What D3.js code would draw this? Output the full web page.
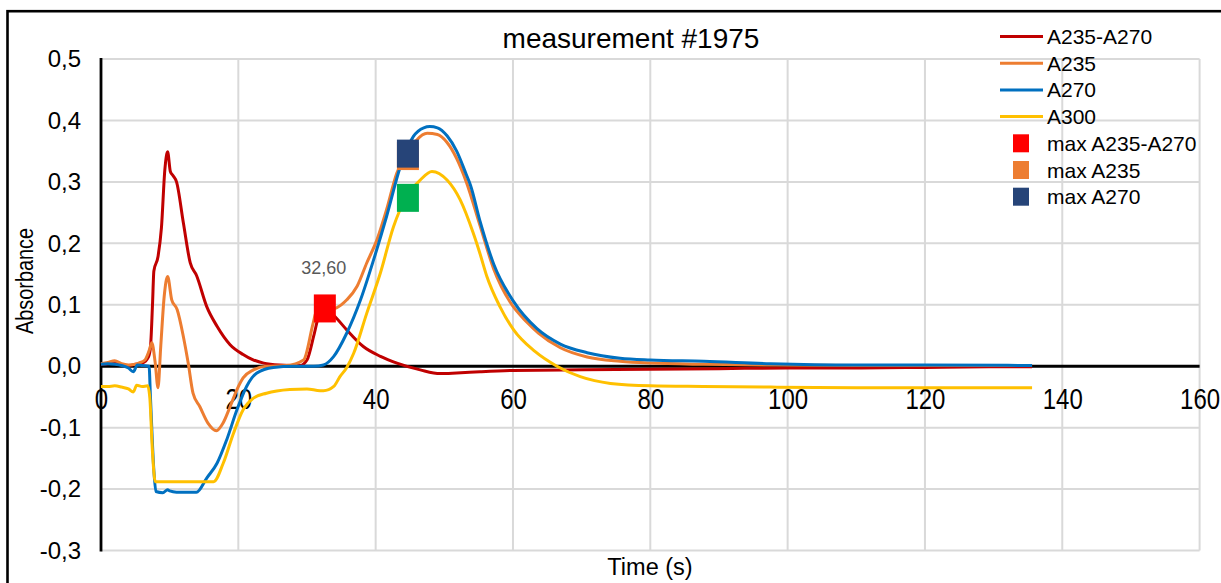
<!DOCTYPE html>
<html><head><meta charset="utf-8">
<script src="https://cdn.jsdelivr.net/npm/d3@7"></script>
<style>
body{margin:0;background:#fff;}
svg{display:block;}
text{font-family:"Liberation Sans",Arial,sans-serif;}
</style>
</head><body>
<svg id="chart" width="1221" height="583"></svg>
<script>
// ---------- data ----------
const chartTitle = "measurement #1975";
const xTitle = "Time (s)";
const yTitle = "Absorbance";
const xTicks = [0, 20, 40, 60, 80, 100, 120, 140, 160];
const yTicks = [-0.3, -0.2, -0.1, 0.0, 0.1, 0.2, 0.3, 0.4, 0.5];
const seriesNames = ["A235-A270", "A235", "A270", "A300"];

const tDiff = [0, 1, 2, 3, 4, 5, 6, 6.9, 7.2, 7.5, 7.7, 8.3, 8.8, 9.3, 9.7, 10.1, 10.5, 11.0, 12.0, 13.0, 13.9, 15.4, 16.9, 18.8, 20.7, 22.0, 23.7, 26, 29, 30, 31, 31.8, 32.6, 33.4, 34.3, 35.8, 38.2, 40.7, 43.1, 46.5, 49.4, 51.8, 55.2, 60, 70, 80, 90, 100, 110, 120, 130, 135.6];
const vDiff = [0.003, 0.004, 0.006, 0.002, 0.001, 0.003, 0.005, 0.015, 0.03, 0.1, 0.155, 0.178, 0.225, 0.32, 0.349, 0.317, 0.31, 0.3, 0.233, 0.168, 0.148, 0.097, 0.065, 0.035, 0.019, 0.011, 0.005, 0.002, 0.001, 0.01, 0.05, 0.085, 0.094, 0.088, 0.078, 0.059, 0.032, 0.016, 0.005, -0.006, -0.012, -0.011, -0.009, -0.007, -0.006, -0.005, -0.004, -0.003, -0.003, -0.002, -0.001, -0.001];

const tA235 = [0, 1, 2, 3, 4, 5, 5.5, 6.4, 7.0, 7.4, 7.9, 8.3, 8.7, 9.2, 9.7, 10.3, 11.1, 12.0, 12.7, 13.4, 14.4, 15.6, 16.8, 17.8, 18.8, 19.8, 20.7, 22.2, 24.1, 27, 29.5, 30.9, 31.4, 32.6, 33.5, 34.3, 35.8, 37.3, 38.7, 40.2, 41.6, 43.1, 44.7, 46, 47.5, 49, 50.4, 51.8, 53.2, 55.2, 57.2, 59.6, 62.0, 63.7, 66.9, 70.8, 75.6, 80, 87.8, 97.5, 110, 120, 135.6];
const vA235 = [0.004, 0.006, 0.009, 0.004, 0.002, 0.003, 0.005, 0.01, 0.025, 0.038, 0.005, -0.035, 0.032, 0.113, 0.146, 0.108, 0.092, 0.048, 0.005, -0.044, -0.066, -0.093, -0.105, -0.092, -0.066, -0.038, -0.019, -0.006, 0, 0.001, 0.01, 0.07, 0.09, 0.094, 0.093, 0.095, 0.108, 0.13, 0.168, 0.206, 0.255, 0.315, 0.345, 0.368, 0.379, 0.377, 0.364, 0.338, 0.300, 0.229, 0.158, 0.104, 0.072, 0.054, 0.030, 0.015, 0.008, 0.005, 0.003, 0.002, 0.001, 0.001, 0.001];

const tA270 = [0, 1, 2, 3, 4, 4.7, 5.3, 6, 7.0, 7.2, 7.7, 8.0, 9, 9.7, 10, 11, 12, 13, 13.9, 15.4, 16.9, 18.3, 19.8, 21.2, 22.7, 25.1, 28, 31, 32.4, 33.9, 35.8, 37.8, 39.7, 41.6, 43.6, 45.5, 47, 47.9, 49, 50.4, 51.8, 53.2, 53.8, 55.2, 57.2, 60.1, 63.5, 66.9, 70.8, 75.6, 80, 87.8, 97.5, 110, 120, 135.6];
const vA270 = [0.003, 0.004, 0.003, 0.001, -0.003, -0.009, 0.002, 0.001, 0.0, -0.05, -0.17, -0.204, -0.206, -0.201, -0.203, -0.205, -0.205, -0.205, -0.205, -0.182, -0.158, -0.12, -0.071, -0.033, -0.011, -0.002, 0.0, 0.0, 0.002, 0.016, 0.054, 0.108, 0.173, 0.244, 0.325, 0.374, 0.388, 0.39, 0.388, 0.375, 0.35, 0.312, 0.295, 0.236, 0.166, 0.105, 0.061, 0.036, 0.022, 0.013, 0.010, 0.008, 0.004, 0.002, 0.002, 0.001];

const tA300 = [0, 1, 2, 3, 4, 4.7, 5.2, 6, 6.8, 7.1, 7.5, 7.9, 9, 11, 13, 15, 16.4, 17.8, 19.3, 20.7, 22.2, 24.1, 27.5, 30, 31.9, 32.4, 33.9, 34.8, 35.8, 36.8, 38.7, 40.7, 42.6, 44.5, 46.5, 48.2, 50.4, 52.3, 54.2, 55.2, 56.2, 58.1, 60.1, 63.2, 66.4, 69.8, 74.2, 80, 87.7, 97.5, 110, 120, 135.6];
const vA300 = [-0.033, -0.033, -0.032, -0.034, -0.037, -0.042, -0.031, -0.033, -0.032, -0.05, -0.14, -0.188, -0.188, -0.188, -0.188, -0.188, -0.188, -0.158, -0.109, -0.071, -0.052, -0.044, -0.038, -0.037, -0.040, -0.040, -0.033, -0.017, -0.002, 0.021, 0.086, 0.152, 0.227, 0.276, 0.303, 0.317, 0.303, 0.271, 0.217, 0.183, 0.146, 0.097, 0.059, 0.024, 0.0, -0.017, -0.028, -0.032, -0.033, -0.034, -0.035, -0.035, -0.035];

const markerNames = ["max A235-A270", "max A235", "max A270", "max A300"];
const markerT = [32.6, 44.7, 44.7, 44.7];
const markerV = [0.094, 0.342, 0.346, 0.274];
const markerInLegend = [true, true, true, false];
const labelledMarker = 0; // data label "32,60"

// ---------- styles ----------
const lineColors = ["#C00000", "#ED7D31", "#0070C0", "#FFC000"];
const markerColors = ["#FF0000", "#ED7D31", "#264478", "#00B050"];
const font = '"Liberation Sans", Arial, sans-serif';

const locale = d3.formatLocale({decimal: ",", thousands: ".", grouping: [3], currency: ["", ""], minus: "-"});
const fmtY = locale.format(".1f");
const fmtLabel = locale.format(".2f");

const svg = d3.select("#chart");
const x = d3.scaleLinear([0, 160], [101, 1199.6]);
const y = d3.scaleLinear([-0.3, 0.5], [550.5, 59]);

// frame
svg.append("rect").attr("x", 7.5).attr("y", 11.2).attr("width", 1300).attr("height", 700)
  .attr("fill", "#fff").attr("stroke", "#000").attr("stroke-width", 2.6);

// gridlines
svg.append("g").selectAll("line").data(yTicks).join("line")
  .attr("x1", x(0)).attr("x2", x(160)).attr("y1", d => y(d)).attr("y2", d => y(d))
  .attr("stroke", "#d9d9d9").attr("stroke-width", 2);
svg.append("g").selectAll("line").data(xTicks.filter(d => d > 0)).join("line")
  .attr("x1", d => x(d)).attr("x2", d => x(d)).attr("y1", y(0.5)).attr("y2", y(-0.3))
  .attr("stroke", "#d9d9d9").attr("stroke-width", 2);

// axis lines
svg.append("line").attr("x1", x(0)).attr("x2", x(0)).attr("y1", y(0.5) - 1).attr("y2", y(-0.3) + 1)
  .attr("stroke", "#000").attr("stroke-width", 2.8);
svg.append("line").attr("x1", x(0)).attr("x2", x(160)).attr("y1", y(0)).attr("y2", y(0))
  .attr("stroke", "#000").attr("stroke-width", 3);

// y axis ticks
const gy = svg.append("g").attr("transform", `translate(${x(0)},0)`)
  .call(d3.axisLeft(y).tickValues(yTicks).tickSize(0).tickPadding(20).tickFormat(fmtY));
gy.select(".domain").remove();
gy.selectAll("text").attr("font-family", font).attr("font-size", 24).attr("fill", "#000");

// x axis ticks
const gx = svg.append("g").attr("transform", `translate(0,${y(0)})`)
  .call(d3.axisBottom(x).tickValues(xTicks).tickSize(0).tickFormat(d3.format("d")));
gx.select(".domain").remove();
gx.selectAll("text").attr("font-family", font).attr("font-size", 24).attr("fill", "#000")
  .attr("y", 17.4).attr("dy", "0.71em").attr("transform", "scale(1,1.25)");

// series
const seriesT = [tDiff, tA235, tA270, tA300];
const seriesV = [vDiff, vA235, vA270, vA300];
const line = d3.line().x(d => x(d[0])).y(d => y(d[1])).curve(d3.curveMonotoneX);
seriesNames.forEach((n, i) => {
  const pts = seriesT[i].map((t, k) => [t, seriesV[i][k]]);
  svg.append("path").datum(pts).attr("d", line).attr("fill", "none")
    .attr("stroke", lineColors[i]).attr("stroke-width", 3).attr("stroke-linejoin", "round");
});

// markers (draw orange behind navy)
const mOrder = [0, 1, 2, 3];
const mw = 22, mh = 28;
mOrder.forEach(i => {
  svg.append("rect").attr("x", x(markerT[i]) - mw / 2).attr("y", y(markerV[i]) - mh / 2)
    .attr("width", mw).attr("height", mh).attr("fill", markerColors[i]);
});

// data label
svg.append("text").attr("x", x(markerT[labelledMarker]) - 1).attr("y", y(markerV[labelledMarker]) - 34)
  .attr("text-anchor", "middle").attr("font-family", '"Open Sans", sans-serif').attr("font-size", 18)
  .attr("fill", "#595959").text(fmtLabel(markerT[labelledMarker]));

// title
svg.append("text").attr("x", 631).attr("y", 48).attr("text-anchor", "middle")
  .attr("font-family", font).attr("font-size", 28).attr("fill", "#000").text(chartTitle);

// axis titles
svg.append("text").attr("x", 650).attr("y", 575).attr("text-anchor", "middle")
  .attr("font-family", font).attr("font-size", 23.5).attr("fill", "#000").text(xTitle);
svg.append("text").attr("transform", "translate(33,281) rotate(-90)").attr("text-anchor", "middle")
  .attr("font-family", font).attr("font-size", 23).attr("textLength", 106).attr("lengthAdjust", "spacingAndGlyphs")
  .attr("fill", "#000").text(yTitle);

// legend
const legendItems = [];
seriesNames.forEach((n, i) => legendItems.push({name: n, type: "line", color: lineColors[i]}));
markerNames.forEach((n, i) => { if (markerInLegend[i]) legendItems.push({name: n, type: "square", color: markerColors[i]}); });
const lg = svg.append("g");
legendItems.forEach((it, k) => {
  const cy = 36.5 + k * 26.7;
  if (it.type === "line") {
    lg.append("line").attr("x1", 1000).attr("x2", 1043).attr("y1", cy).attr("y2", cy)
      .attr("stroke", it.color).attr("stroke-width", 3);
  } else {
    lg.append("rect").attr("x", 1013).attr("y", cy - 9).attr("width", 16).attr("height", 18).attr("fill", it.color);
  }
  lg.append("text").attr("x", 1047).attr("y", cy).attr("dy", "0.36em")
    .attr("font-family", font).attr("font-size", 21).attr("fill", "#000").text(it.name);
});
</script>
</body></html>
